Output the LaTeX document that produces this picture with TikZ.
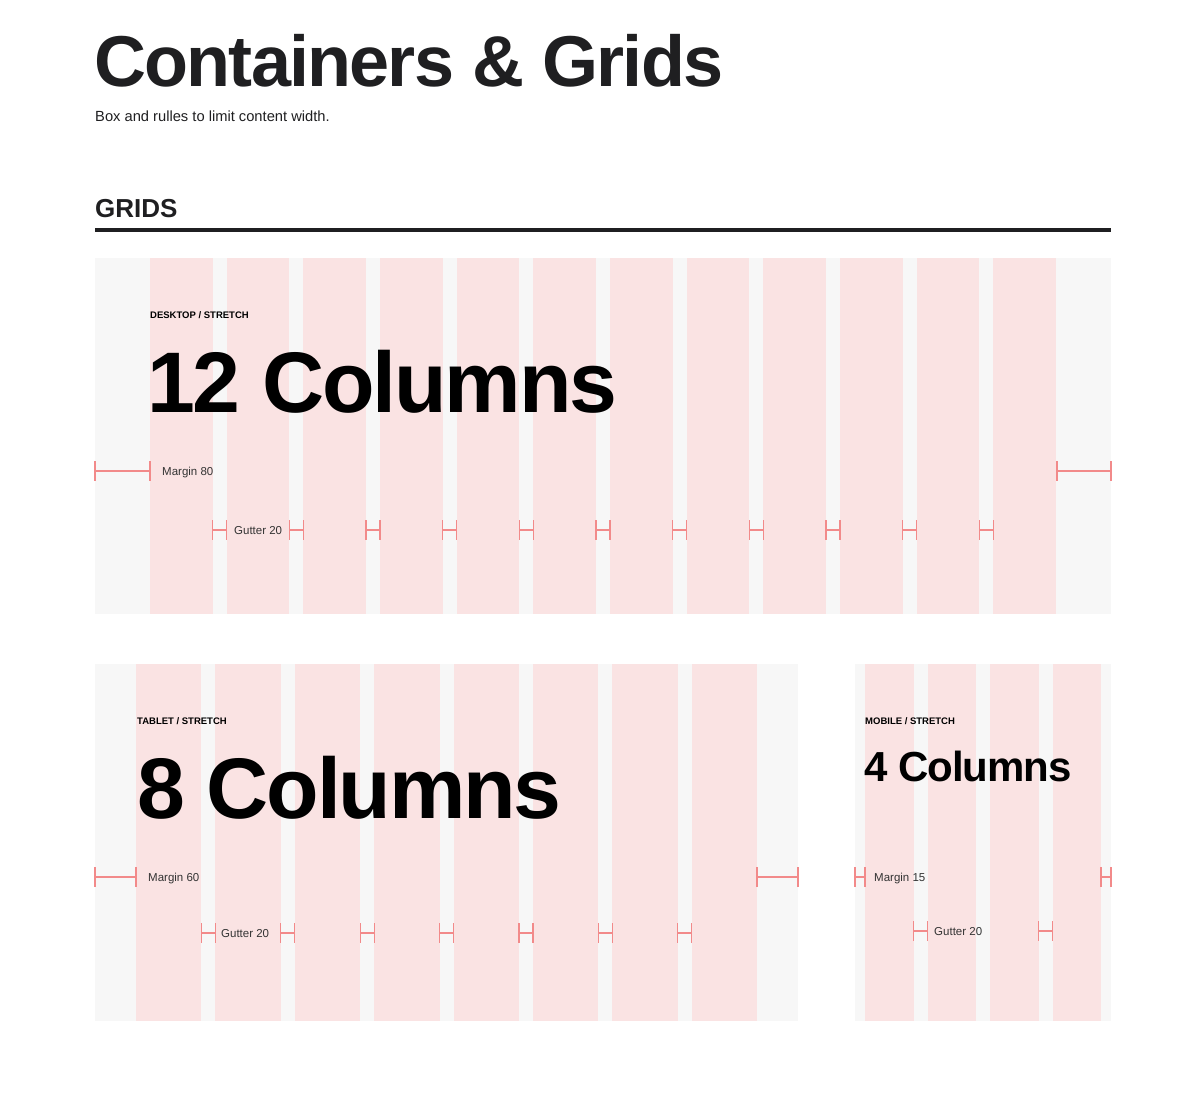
\documentclass[tikz,border=0pt]{standalone}
\usepackage{fontspec}
\setmainfont{Liberation Sans}
\newfontfamily\headfont[LetterSpace=-2.5]{Liberation Sans}
\usepackage{xcolor}
\definecolor{gridbg}{HTML}{F7F7F7}
\definecolor{colpink}{HTML}{FAE3E3}
\definecolor{markred}{HTML}{F28A8A}
\definecolor{inkdark}{HTML}{1F1F21}
\definecolor{labelgray}{HTML}{333333}
\newcommand{\gapmark}[3]{\draw[markred,line width=1.2pt] (#1,#3) -- (#2,#3) (#1,#3-10) -- (#1,#3+10) (#2,#3-10) -- (#2,#3+10)}
\newcommand{\gridbox}[4]{\fill[gridbg] (#1,#2) rectangle (#3,#4)}
\tikzset{
  tag/.style={anchor=base west,inner sep=0,font=\bfseries\fontsize{9.5}{10}\selectfont},
  count/.style={anchor=base west,inner sep=0,font=\headfont\bfseries\fontsize{#1}{#1}\selectfont},
  dimlabel/.style={anchor=base west,inner sep=0,text=labelgray,font=\fontsize{11.5}{12}\selectfont}
}

\begin{document}
\begin{tikzpicture}[x=1pt,y=-1pt]
  \useasboundingbox[fill=white] (0,0) rectangle (1198,1106);
  % heading
  \node[count=72,text=inkdark] (title) at (94,86) {Containers \& Grids};
  \node[anchor=base west,inner sep=0,text=inkdark,font=\fontsize{14.7}{16}\selectfont] (subtitle) at (95,121) {Box and rulles to limit content width.};
  \node[anchor=base west,inner sep=0,text=inkdark,font=\bfseries\fontsize{26}{27}\selectfont] (grids) at (95,217) {GRIDS};
  \draw[inkdark,line width=4pt] (95,230) -- (1111,230);

  % desktop
  \gridbox{95}{258}{1111}{614};
  \foreach \i in {0,...,11}
    \fill[colpink] ({150+\i*76.67},258) rectangle ({212.67+\i*76.67},614);
  \node[tag] (desktag) at (150,318) {DESKTOP / STRETCH};
  \node[count=86] (deskcount) at (147,412) {12 Columns};
  \gapmark{95}{150}{471};
  \gapmark{1057}{1111}{471};
  \node[dimlabel] (deskmargin) at (162,475) {Margin 80};
  \foreach \i in {1,...,11}
    \gapmark{{136+\i*76.67}}{{150+\i*76.67}}{530};
  \node[dimlabel] (deskgutter) at (234,534) {Gutter 20};

  % tablet
  \gridbox{95}{664}{798}{1021};
  \foreach \i in {0,...,7}
    \fill[colpink] ({136+\i*79.4},664) rectangle ({201.4+\i*79.4},1021);
  \node[tag] (tabtag) at (137,724) {TABLET / STRETCH};
  \node[count=86] (tabcount) at (137,818) {8 Columns};
  \gapmark{95}{136}{877};
  \gapmark{757}{798}{877};
  \node[dimlabel] (tabmargin) at (148,881) {Margin 60};
  \foreach \i in {1,...,7}
    \gapmark{{122+\i*79.4}}{{136+\i*79.4}}{933};
  \node[dimlabel] (tabgutter) at (221,937) {Gutter 20};

  % mobile
  \gridbox{855}{664}{1111}{1021};
  \foreach \i in {0,...,3}
    \fill[colpink] ({865+\i*62.5},664) rectangle ({913.5+\i*62.5},1021);
  \node[tag] (mobtag) at (865,724) {MOBILE / STRETCH};
  \node[count=42] (mobcount) at (864,781) {4 Columns};
  \gapmark{855}{865}{877};
  \gapmark{1101}{1111}{877};
  \node[dimlabel] (mobmargin) at (874,881) {Margin 15};
  \gapmark{913.5}{927.5}{931};
  \gapmark{1038.5}{1052.5}{931};
  \node[dimlabel] (mobgutter) at (934,935) {Gutter 20};
\end{tikzpicture}
\end{document}
